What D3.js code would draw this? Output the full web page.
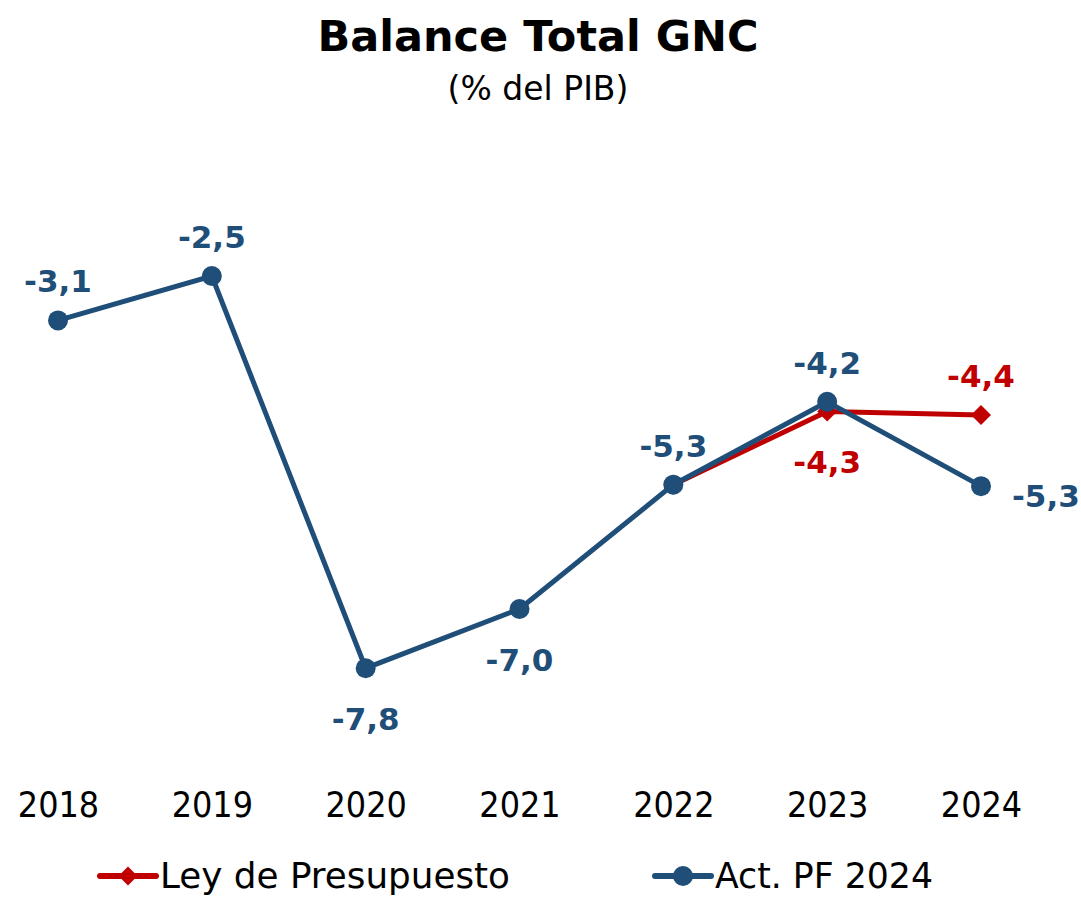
<!DOCTYPE html>
<html>
<head>
<meta charset="utf-8">
<script src="https://cdn.jsdelivr.net/npm/d3@7"></script>
<style>
  body { margin: 0; background: #fff; }
  svg { display: block; font-family: "Century Gothic", "DejaVu Sans", sans-serif; }
</style>
</head>
<body>
<div id="chart"></div>
<script>
// Datos
const years = ["2018", "2019", "2020", "2021", "2022", "2023", "2024"];
const actValues = [-3.1, -2.5, -7.8, -7.0, -5.32, -4.2, -5.34];
const actLabels = ["-3,1", "-2,5", "-7,8", "-7,0", "-5,3", "-4,2", "-5,3"];
const leyYears = ["2022", "2023", "2024"];
const leyValues = [-5.32, -4.33, -4.38];
const leyLabels = ["-5,3", "-4,3", "-4,4"];
// posición de etiqueta: "above", "below", "right", null = sin etiqueta
const actLabelPos = ["above", "above", "below", "below", "above", "above", "right"];
const leyLabelPos = [null, "below", "above"];

const blue = "#1F4E79";
const red = "#C00000";

const W = 1081, H = 897;

const svg = d3.select("#chart")
    .append("svg")
    .attr("width", W)
    .attr("height", H);

// Escalas
const x = d3.scalePoint()
    .domain(years)
    .range([58, 981]);

const y = d3.scaleLinear()
    .domain([0, -9])
    .range([91, 757]);

// Título
svg.append("text")
    .attr("x", 538)
    .attr("y", 51)
    .attr("text-anchor", "middle")
    .style("font-size", "43px")
    .style("font-weight", "bold")
    .attr("fill", "#000")
    .text("Balance Total GNC");

svg.append("text")
    .attr("x", 538)
    .attr("y", 100)
    .attr("text-anchor", "middle")
    .style("font-size", "33px")
    .attr("fill", "#000")
    .text("(% del PIB)");

// Eje X (solo etiquetas)
const xAxis = svg.append("g")
    .attr("transform", "translate(0,805)")
    .call(d3.axisBottom(x).tickSize(0).tickPadding(0));
xAxis.select(".domain").remove();
xAxis.selectAll("text")
    .attr("dy", "0")
    .attr("y", 11)
    .attr("transform", "scale(1,1.1)")
    .style("font-family", "\"Century Gothic\", \"DejaVu Sans\", sans-serif")
    .style("font-size", "32px")
    .attr("fill", "#000");

const line = d3.line()
    .x(d => x(d.year))
    .y(d => y(d.value));

const actData = years.map((yr, i) => ({ year: yr, value: actValues[i], label: actLabels[i], pos: actLabelPos[i] }));
const leyData = leyYears.map((yr, i) => ({ year: yr, value: leyValues[i], label: leyLabels[i], pos: leyLabelPos[i] }));

// Línea Ley de Presupuesto
svg.append("path")
    .datum(leyData)
    .attr("d", line)
    .attr("fill", "none")
    .attr("stroke", red)
    .attr("stroke-width", 5);

svg.selectAll(".ley-marker")
    .data(leyData)
    .enter()
    .append("path")
    .attr("class", "ley-marker")
    .attr("d", d3.symbol().type(d3.symbolSquare).size(200))
    .attr("transform", d => `translate(${x(d.year)},${y(d.value)}) rotate(45)`)
    .attr("fill", red);

// Línea Act. PF 2024
svg.append("path")
    .datum(actData)
    .attr("d", line)
    .attr("fill", "none")
    .attr("stroke", blue)
    .attr("stroke-width", 5);

svg.selectAll(".act-marker")
    .data(actData)
    .enter()
    .append("circle")
    .attr("class", "act-marker")
    .attr("cx", d => x(d.year))
    .attr("cy", d => y(d.value))
    .attr("r", 10)
    .attr("fill", blue);

// Etiquetas de datos
function addLabels(data, color) {
    svg.selectAll(null)
        .data(data.filter(d => d.pos))
        .enter()
        .append("text")
        .attr("x", d => d.pos === "right" ? x(d.year) + 31 : x(d.year))
        .attr("y", d => {
            const py = y(d.value);
            if (d.pos === "above") return py - 28;
            if (d.pos === "below") return py + 62;
            return py + 21;
        })
        .attr("text-anchor", d => d.pos === "right" ? "start" : "middle")
        .style("font-size", "31px")
        .style("font-weight", "bold")
        .attr("fill", color)
        .text(d => d.label);
}
addLabels(actData, blue);
addLabels(leyData, red);

// Leyenda
const legendItems = [
    { name: "Ley de Presupuesto", color: red, type: "diamond", x0: 100, textW: 350 },
    { name: "Act. PF 2024", color: blue, type: "circle", x0: 655, textW: 218 }
];
const ly = 876;
legendItems.forEach(item => {
    const g = svg.append("g");
    g.append("line")
        .attr("x1", item.x0)
        .attr("x2", item.x0 + 56)
        .attr("y1", ly)
        .attr("y2", ly)
        .attr("stroke", item.color)
        .attr("stroke-width", 6)
        .attr("stroke-linecap", "round");
    if (item.type === "diamond") {
        g.append("path")
            .attr("d", d3.symbol().type(d3.symbolSquare).size(180))
            .attr("transform", `translate(${item.x0 + 28},${ly}) rotate(45)`)
            .attr("fill", item.color);
    } else {
        g.append("circle")
            .attr("cx", item.x0 + 28)
            .attr("cy", ly)
            .attr("r", 10)
            .attr("fill", item.color);
    }
    g.append("text")
        .attr("x", item.x0 + 60)
        .attr("y", ly + 12)
        .attr("textLength", item.textW)
        .attr("lengthAdjust", "spacingAndGlyphs")
        .style("font-size", "35px")
        .attr("fill", "#000")
        .text(item.name);
});
</script>
</body>
</html>
